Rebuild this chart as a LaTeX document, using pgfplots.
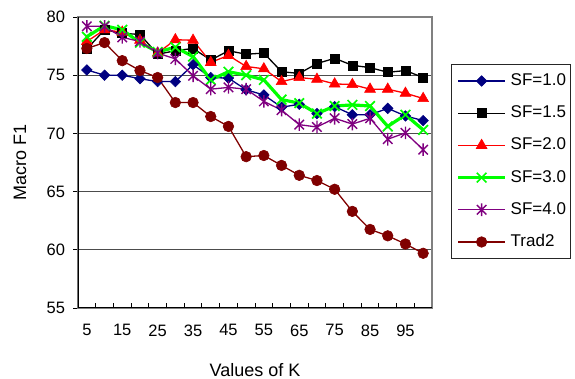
\documentclass[border=0pt]{standalone}
\usepackage{pgfplots}
\pgfplotsset{compat=1.18}
\usepackage{fontspec}
\setmainfont{Liberation Sans}
\definecolor{navyc}{RGB}{0,0,128}
\definecolor{purplec}{RGB}{128,0,128}
\definecolor{darkredc}{RGB}{128,0,0}
\definecolor{limec}{RGB}{0,255,0}
\definecolor{redc}{RGB}{255,0,0}
\pgfdeclareplotmark{xstar}{%
  \pgfpathmoveto{\pgfqpoint{0pt}{\pgfplotmarksize}}%
  \pgfpathlineto{\pgfqpoint{0pt}{-\pgfplotmarksize}}%
  \pgfpathmoveto{\pgfqpoint{-0.75\pgfplotmarksize}{-0.75\pgfplotmarksize}}%
  \pgfpathlineto{\pgfqpoint{0.75\pgfplotmarksize}{0.75\pgfplotmarksize}}%
  \pgfpathmoveto{\pgfqpoint{-0.75\pgfplotmarksize}{0.75\pgfplotmarksize}}%
  \pgfpathlineto{\pgfqpoint{0.75\pgfplotmarksize}{-0.75\pgfplotmarksize}}%
  \pgfusepathqstroke}
\begin{document}
\begin{tikzpicture}
\useasboundingbox (-78pt,-71pt) rectangle (497pt,308pt);
\begin{axis}[
  at={(0pt,0pt)}, anchor=south west,
  scale only axis, width=354pt, height=291pt,
  xmin=2.5, xmax=102.5, ymin=55, ymax=80,
  /pgf/number format/assume math mode=true,
  xtick={2.5,7.5,...,102.5},
  xticklabels={\textnormal{5},,\textnormal{15},,\textnormal{25},,\textnormal{35},,\textnormal{45},,\textnormal{55},,\textnormal{65},,\textnormal{75},,\textnormal{85},,\textnormal{95},,},
  ytick={55,60,...,80},
  xtick pos=left, ytick pos=left,
  tick align=inside,
  major tick length=4.5pt,
  xtick style={black, line width=0.9pt},
  ytick style={black, line width=0.9pt, xshift=-4.5pt},
  xticklabel style={xshift=8.85pt, yshift=-13pt, font=\fontsize{16.5}{19}\selectfont},
  yticklabel style={xshift=-9.5pt, font=\fontsize{16.5}{19}\selectfont},
  ymajorgrids,
  major grid style={black!70, line width=1pt},
  axis line style={draw=black!50, line width=1.2pt},
  xlabel={Values of K}, ylabel={Macro F1},
  label style={font=\fontsize{18}{21}\selectfont},
  xlabel style={at={(axis description cs:0.5,-0.212)}, anchor=center},
  ylabel style={at={(axis description cs:-0.164,0.5)}, anchor=center, rotate=0},
  legend style={at={(1.0537,0.8385)}, anchor=north west, draw=black!85, line width=1pt,
    font=\fontsize{17}{20}\selectfont, inner xsep=5pt, inner ysep=8.5pt,
    nodes={inner sep=0pt, text height=12.5pt, text depth=3.5pt},
    row sep=16.2pt, column sep=4pt},
  legend cell align=left,
  legend image code/.code={\draw[mark repeat=2,mark phase=2] plot coordinates {(0pt,0pt) (23.5pt,0pt) (47pt,0pt)};},
]
\addplot[color=navyc, line width=1.3pt, mark=square*, mark size=3.7pt, mark options={rotate=45, solid, fill=navyc, line width=0.6pt}]
coordinates {(5,75.45)(10,75.0)(15,75.0)(20,74.7)(25,74.45)(30,74.45)(35,75.9)(40,74.8)(45,74.75)(50,73.75)(55,73.3)(60,72.25)(65,72.5)(70,71.7)(75,72.3)(80,71.6)(85,71.6)(90,72.15)(95,71.5)(100,71.1)};
\addlegendentry{SF=1.0}
\addplot[color=black, line width=1.3pt, mark=square*, mark size=4.5pt, mark options={solid, fill=black, line width=0.6pt}]
coordinates {(5,77.25)(10,78.9)(15,78.6)(20,78.5)(25,76.8)(30,77.1)(35,77.3)(40,76.3)(45,77.1)(50,76.8)(55,76.9)(60,75.3)(65,75.15)(70,76.0)(75,76.45)(80,75.85)(85,75.65)(90,75.25)(95,75.4)(100,74.8)};
\addlegendentry{SF=1.5}
\addplot[color=redc, line width=1.3pt, mark=triangle*, mark size=6.2pt, mark options={solid, fill=redc, line width=0.6pt}]
coordinates {(5,77.9)(10,78.9)(15,78.7)(20,78.0)(25,76.9)(30,78.05)(35,78.0)(40,76.1)(45,76.7)(50,75.75)(55,75.55)(60,74.45)(65,74.8)(70,74.65)(75,74.25)(80,74.2)(85,73.8)(90,73.8)(95,73.45)(100,73.0)};
\addlegendentry{SF=2.0}
\addplot[color=limec, line width=3.2pt, mark=x, mark size=6.8pt, mark options={solid, line width=1.7pt}]
coordinates {(5,78.3)(10,79.25)(15,78.9)(20,77.8)(25,77.0)(30,77.4)(35,76.6)(40,74.6)(45,75.3)(50,75.0)(55,74.6)(60,72.9)(65,72.6)(70,71.7)(75,72.35)(80,72.45)(85,72.35)(90,70.6)(95,71.6)(100,70.3)};
\addlegendentry{SF=3.0}
\addplot[color=purplec, line width=1.3pt, mark=xstar, mark size=6.3pt, mark options={solid, line width=1.4pt}]
coordinates {(5,79.2)(10,79.2)(15,78.25)(20,77.9)(25,76.9)(30,76.4)(35,74.95)(40,73.8)(45,73.95)(50,73.8)(55,72.75)(60,72.0)(65,70.75)(70,70.55)(75,71.3)(80,70.8)(85,71.3)(90,69.5)(95,70.05)(100,68.6)};
\addlegendentry{SF=4.0}
\addplot[color=darkredc, line width=1.3pt, mark=*, mark size=5.3pt, mark options={solid, fill=darkredc, line width=0.6pt}]
coordinates {(5,77.3)(10,77.8)(15,76.25)(20,75.4)(25,74.8)(30,72.65)(35,72.65)(40,71.45)(45,70.6)(50,68.0)(55,68.1)(60,67.25)(65,66.4)(70,65.95)(75,65.2)(80,63.3)(85,61.75)(90,61.2)(95,60.5)(100,59.7)};
\addlegendentry{Trad2}
\draw[black, line width=1.5pt] (rel axis cs:0,1) -- (rel axis cs:0,0) -- (rel axis cs:1,0);
\end{axis}
\end{tikzpicture}
\end{document}
